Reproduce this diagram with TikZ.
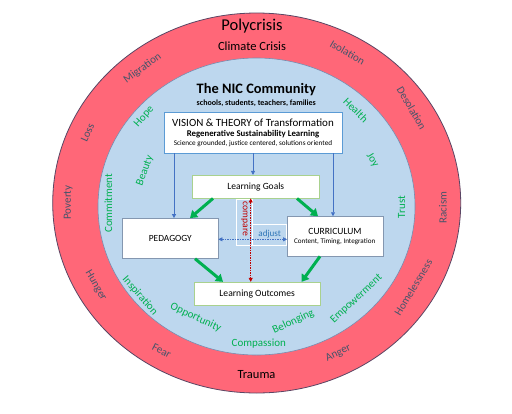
\documentclass[tikz,border=0pt]{standalone}
\usepackage{fontspec}
\setmainfont{Carlito}
\usetikzlibrary{arrows.meta}
\definecolor{ringred}{RGB}{255,103,120}
\definecolor{ringline}{RGB}{90,70,100}
\definecolor{innerblue}{RGB}{189,215,238}
\definecolor{innerline}{RGB}{120,140,175}
\definecolor{ringtext}{RGB}{68,84,106}
\definecolor{greentext}{RGB}{0,176,80}
\definecolor{arrowblue}{RGB}{68,114,196}
\definecolor{visionborder}{RGB}{91,155,213}
\definecolor{greenborder}{RGB}{169,209,142}
\definecolor{grayborder}{RGB}{132,151,176}
\definecolor{darkred}{RGB}{192,0,0}
\definecolor{adjustblue}{RGB}{46,117,182}
\definecolor{greenarrow}{RGB}{0,176,80}
\begin{document}
\begin{tikzpicture}[x=1pt,y=-1pt,
  ringword/.style={text=ringtext,font=\fontsize{11}{13}\selectfont,inner sep=0pt},
  greenword/.style={text=greentext,font=\fontsize{11}{13}\selectfont,inner sep=0pt},
  boxnode/.style={draw,fill=white,line width=0.8pt,inner sep=0pt,minimum width=#1},
  plain/.style={inner sep=0pt},
  bluearr/.style={draw=arrowblue,line width=0.8pt,-{Triangle[length=4pt,width=4pt]}},
  greenarr/.style={draw=greenarrow,line width=3pt,-{Triangle[length=7pt,width=9pt]}},
  reddot/.style={draw=darkred,line width=0.7pt,dash pattern=on 1.5pt off 1pt,{Triangle[length=4pt,width=4pt]}-{Triangle[length=4pt,width=4pt]}},
  bluedot/.style={draw=arrowblue,line width=0.7pt,dash pattern=on 1.5pt off 1pt,{Triangle[length=4pt,width=4pt]}-{Triangle[length=4pt,width=4pt]}},
  labelbox/.style={draw=white,line width=0.8pt}
]
\useasboundingbox (0,0) rectangle (512,413);
\fill[white] (0,0) rectangle (512,413);
% rings
\draw[ringline,line width=0.8pt,fill=ringred] (256.7,203) ellipse [x radius=204pt, y radius=190pt];
\draw[innerline,line width=0.6pt,fill=innerblue] (256.5,206.5) ellipse [x radius=158.5pt, y radius=148.5pt];

% outer ring texts
\node[plain,font=\fontsize{16.5}{18}\selectfont] (poly) at (252,26) {Polycrisis};
\node[plain,font=\fontsize{12.5}{14}\selectfont] (climate) at (252,46) {Climate Crisis};
\node[plain,font=\fontsize{12.5}{14}\selectfont] (trauma) at (256.5,374.5) {Trauma};
\node[ringword,rotate=36] (migration) at (142.5,68.3) {Migration};
\node[ringword,rotate=-30] (isolation) at (347.5,52.5) {Isolation};
\node[ringword,rotate=-60] (desolation) at (411.7,108.3) {Desolation};
\node[ringword,rotate=90] (racism) at (443,207.5) {Racism};
\node[ringword,rotate=59] (homeless) at (413.3,287.5) {Homelessness};
\node[ringword,rotate=25] (anger) at (338.3,353.3) {Anger};
\node[ringword,rotate=-27] (fear) at (161.7,350.8) {Fear};
\node[ringword,rotate=-60] (hunger) at (95.8,285.8) {Hunger};
\node[ringword,rotate=90] (poverty) at (68.3,202.5) {Poverty};
\node[ringword,rotate=66] (loss) at (87.5,132.5) {Loss};

% inner texts
\node[plain,font=\bfseries\fontsize{14.4}{16}\selectfont] (nic) at (256.3,90) {The NIC Community};
\node[plain,font=\bfseries\fontsize{8}{9}\selectfont] (nicsub) at (256.3,103.5) {schools, students, teachers, families};
\node[greenword,rotate=48] (hope) at (144.2,116.7) {Hope};
\node[greenword,rotate=-45] (health) at (355.8,110) {Health};
\node[greenword,rotate=70] (beauty) at (145,170.8) {Beauty};
\node[greenword,rotate=-58] (joy) at (372.5,160) {Joy};
\node[greenword,rotate=90] (commit) at (108.3,203.3) {Commitment};
\node[greenword,rotate=90] (trust) at (401.7,207.2) {Trust};
\node[greenword,rotate=-49] (inspir) at (140,295.8) {Inspiration};
\node[greenword,rotate=-25] (opport) at (195.8,317.5) {Opportunity};
\node[greenword] (compass) at (258.8,343.3) {Compassion};
\node[greenword,rotate=25] (belong) at (293.3,321.7) {Belonging};
\node[greenword,rotate=43] (empower) at (356.5,299) {Empowerment};

% boxes
\node[boxnode=178.5pt,draw=visionborder,minimum height=41pt] (vision) at (253.2,132.5) {};
\node[plain,font=\fontsize{11}{12}\selectfont] (vis1) at (253,123) {VISION \& THEORY of Transformation};
\node[plain,font=\bfseries\fontsize{8.8}{10}\selectfont] (vis2) at (253,134) {Regenerative Sustainability Learning};
\node[plain,font=\fontsize{7.2}{8}\selectfont] (vis3) at (253,143.5) {Science grounded, justice centered, solutions oriented};

\node[boxnode=127pt,draw=greenborder,minimum height=22.7pt,font=\fontsize{9.5}{11}\selectfont] (goals) at (255.8,186.7) {Learning Goals};
\node[boxnode=95.3pt,draw=grayborder,minimum height=39.8pt,font=\fontsize{9.4}{11}\selectfont] (ped) at (170.3,238.4) {PEDAGOGY};
\node[boxnode=95.8pt,draw=grayborder,minimum height=39.3pt] (cur) at (335.4,236.3) {};
\node[plain,font=\fontsize{9.5}{11}\selectfont] (cur1) at (335,231.7) {CURRICULUM};
\node[plain,font=\fontsize{7.1}{8}\selectfont] (cur2) at (334.7,242) {Content, Timing, Integration};
\node[boxnode=125.7pt,draw=greenborder,minimum height=22.7pt,font=\fontsize{9.6}{11}\selectfont] (outcomes) at (257.2,293.6) {Learning Outcomes};

% compare / adjust label boxes
\node[labelbox,minimum width=16.7pt,minimum height=45.7pt,inner sep=0pt] (cmpbox) at (244.35,222.15) {};
\node[labelbox,minimum width=34pt,minimum height=20.3pt,inner sep=0pt] (adjbox) at (269.7,234.85) {};
\node[plain,rotate=-90,text=darkred,font=\fontsize{9.7}{11}\selectfont] (compare) at (244.5,219) {compare};
\node[plain,text=adjustblue,font=\fontsize{9.1}{11}\selectfont] (adjust) at (269.7,234) {adjust};

% blue thin arrows
\draw[bluearr] (vision.south -| 174,0) -- (ped.north -| 174,0);
\draw[bluearr] (vision.south -| 253,0) -- (goals.north -| 253,0);
\draw[bluearr] (vision.south -| 333,0) -- (cur.north -| 333,0);

% green arrows
\draw[greenarr] (goals.south -| 213,0) -- (ped.north -| 190,0);
\draw[greenarr] (goals.south -| 297,0) -- (cur.north -| 318,0);
\draw[greenarr] (ped.south -| 195,0) -- (outcomes.north -| 223,0);
\draw[greenarr] (cur.south -| 320,0) -- (outcomes.north -| 301.5,0);

% dotted arrows
\draw[reddot] (goals.south -| 250.7,0) -- (outcomes.north -| 250.7,0);
\draw[bluedot] (ped.east |- 0,239.3) -- (cur.west |- 0,239.3);
\end{tikzpicture}
\end{document}
